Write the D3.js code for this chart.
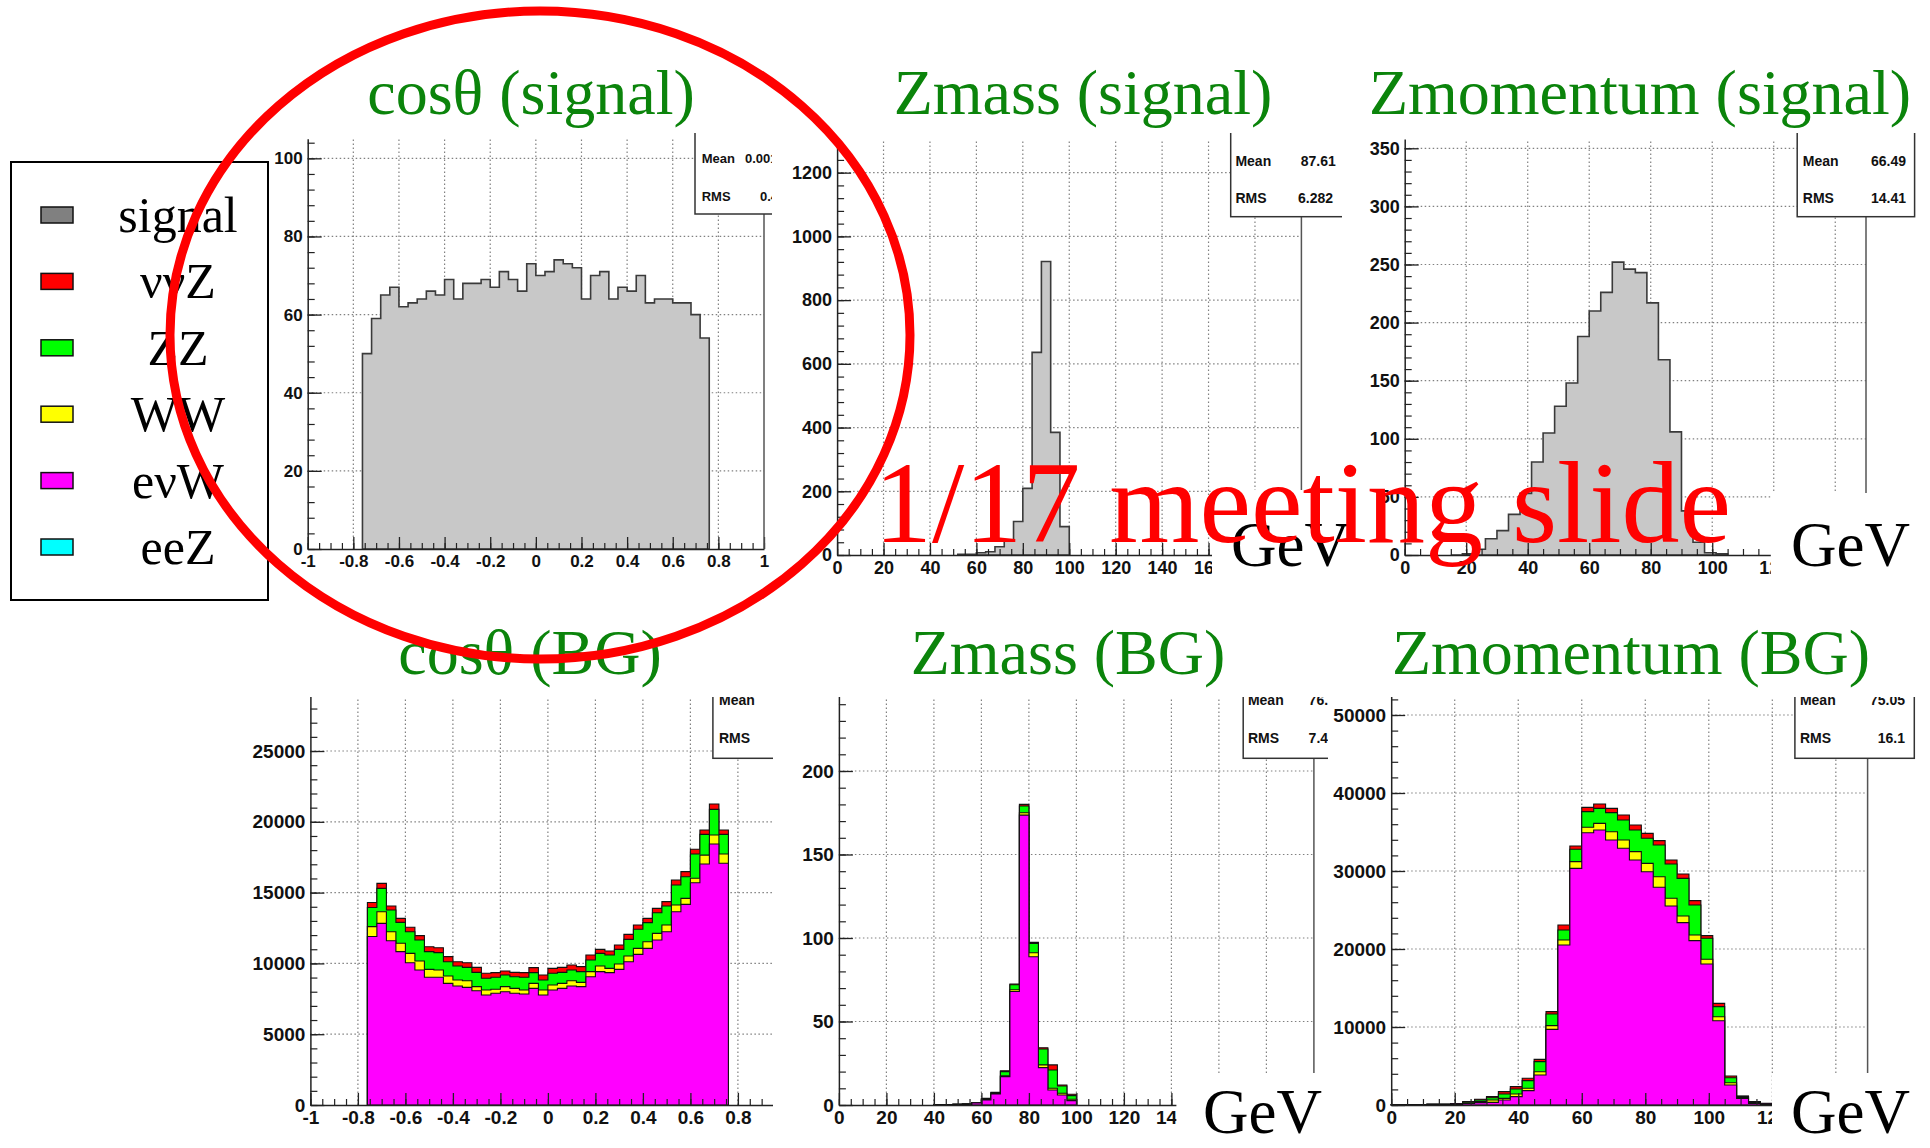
<!DOCTYPE html>
<html>
<head>
<meta charset="utf-8">
<script src="https://cdn.jsdelivr.net/npm/d3@7"></script>
<style>
  body { margin: 0; background: #fff; }
</style>
</head>
<body>
<script>
// ---- data ----

// legend
const processNames = ['signal', 'ννZ', 'ZZ', 'WW', 'eνW', 'eeZ'];
const processColors = ['#808080', '#ff0000', '#00ff00', '#ffff00', '#ff00ff', '#00ffff'];

// panel titles
const titlesTop = ['cosθ (signal)', 'Zmass (signal)', 'Zmomentum (signal)'];
const titlesBottom = ['cosθ (BG)', 'Zmass (BG)', 'Zmomentum (BG)'];

// cos(theta): 38 bins of 0.04 from -0.76
const cosLo = -0.76, cosW = 0.04;
const cosSignal = [50,59,65,67,62,63,64,66,65,69,64,68,68,69,67,71,69,66,73,70,
                   71,74,73,72,64,70,71,64,67,66,70,63,64,64,63,63,60,54];
const cosEvW = [11900,12830,11600,10830,10050,9530,9020,9020,8590,8400,8310,8070,7770,7890,8000,
                7890,7840,8240,7770,8120,8240,8400,8360,9060,9420,9350,9580,10120,10640,11060,
                11650,12240,13650,14170,15700,17020,18430,17070];
const cosWW = [700,820,640,590,660,640,560,510,520,430,470,290,350,280,360,350,280,350,350,350,
               350,380,300,360,400,300,380,400,420,470,470,470,470,420,310,630,640,660];
const cosZZ = [1350,1650,1530,1480,1530,1480,1250,1230,1010,990,940,1010,830,850,820,820,900,760,
               710,830,780,750,760,820,890,940,1030,1180,1350,1350,1460,1340,1420,1530,1720,1460,1810,1380];
const cosNnZ = [350,350,280,280,310,310,350,350,360,300,330,350,350,330,280,310,330,350,350,350,
                350,360,350,350,280,290,310,350,300,300,310,310,350,360,330,310,380,310];

// Z mass: 4 GeV bins
const massSigLo = 52, massBgLo = 40, massW = 4;
const massSignal = [2,2,7,10,26,47,105,209,636,921,385,89];
const massEvW = [0.2,0.3,0.4,0.5,1.3,3,6.6,17,68,173.6,88.8,22.4,9,6,2.6];
const massWW  = [0,0,0,0,0.2,0.3,0.3,0.5,1,1.4,2.4,1.6,1,1,0.8];
const massZZ  = [0,0,0,0,0,0.5,0.5,2.5,3,4,5.6,9.5,11,4.4,2.2];
const massNnZ = [0,0,0,0,0,0.2,0.2,0.5,0.5,1,0.6,0.8,3,0.6,0.8];

// Z momentum: 3.75 GeV bins
const momSigLo = 15, momBgLo = 0, momW = 3.75;
const momSignal = [0,1,5,14,21,35,53,80,105,128,148,188,210,226,252,246,243,217,168,106,38,11,2,1];
const momEvW = [50,50,60,80,100,150,200,300,340,640,1070,1840,3850,9700,20510,30340,34910,35260,
                33970,32910,31410,29910,27910,25510,23380,21070,18080,10810,2560,850,210,150];
const momWW  = [0,0,0,0,0,20,80,150,300,210,340,300,420,470,640,860,690,850,1070,1060,1070,1070,
                1360,990,850,720,600,510,300,100,100,30];
const momZZ  = [0,0,0,0,0,20,100,200,280,560,640,980,1290,1500,1290,1580,2010,1920,2440,2570,2780,
                3210,4060,4400,4830,3850,2690,1290,640,150,80,20];
const momNnZ = [0,0,0,0,0,10,50,80,150,300,300,300,290,300,640,420,550,560,550,640,640,640,560,
                510,560,560,340,420,220,50,40,10];

// stats boxes
const statsValues = [['0.001', '0.43'], ['87.61', '6.282'], ['66.49', '14.41'],
                     ['', ''], ['76.61', '7.418'], ['75.05', '16.1']];

// ---- drawing ----
const sans = "'Liberation Sans', Arial, Helvetica, sans-serif";
const serif = "'Liberation Serif', 'Times New Roman', Times, serif";

const svg = d3.select('body').append('svg')
  .attr('width', 1930)
  .attr('height', 1148);

// stacking order from the bottom: evW, WW, ZZ, nnZ
const stackColors = ['#ff00ff', '#ffff00', '#00ff00', '#ff0000'];

const panels = [
  { clip: [258, 133, 772, 600], xDom: [-1, 1], xPx: [307.7, 764], yDom: [0, 105], yPx: [549, 138.8],
    xStep: 0.2, xMinor: 0.05, yStep: 20, yMinor: 4, fs: 17, sfs: 13,
    hist: { lo: cosLo, w: cosW, vals: cosSignal },
    box: { x: 695, y: 110, r: 900, b: 214, tx: 701.7, meanY: 163, rmsY: 201, vx: [745, 760], anchor: 'start' } },
  { clip: [784, 133, 1342, 600], xDom: [0, 200], xPx: [837.1, 1301.4], yDom: [0, 1300], yPx: [555, 140.8],
    xStep: 20, xMinor: 5, yStep: 200, yMinor: 40, fs: 18, sfs: 14,
    hist: { lo: massSigLo, w: massW, vals: massSignal },
    box: { x: 1230.7, y: 110, r: 1400, b: 216.7, tx: 1235.4, meanY: 166, rmsY: 203, vx: [1300.7, 1298], anchor: 'start' },
    gev: { bx: 1212, by: 490, tx: 1231, ty: 566 } },
  { clip: [1362, 133, 1918, 600], xDom: [0, 150], xPx: [1404.7, 1866], yDom: [0, 358], yPx: [555, 139],
    xStep: 20, xMinor: 5, yStep: 50, yMinor: 10, fs: 18, sfs: 14,
    hist: { lo: momSigLo, w: momW, vals: momSignal },
    box: { x: 1797.2, y: 110, r: 1914.6, b: 216.7, tx: 1802.8, meanY: 166, rmsY: 203, vx: [1906, 1906], anchor: 'end' },
    gev: { bx: 1770.8, by: 493, tx: 1791, ty: 566 } },
  { clip: [245, 697, 773, 1148], xDom: [-1, 1], xPx: [310.4, 785.4], yDom: [0, 29500], yPx: [1105, 687.3],
    xStep: 0.2, xMinor: 0.05, yStep: 5000, yMinor: 1000, fs: 19, sfs: 14,
    stack: { lo: cosLo, w: cosW, layers: [cosEvW, cosWW, cosZZ, cosNnZ] },
    box: { x: 712.9, y: 680, r: 900, b: 758.3, tx: 719, meanY: 705, rmsY: 743, vx: [790, 790], anchor: 'start' } },
  { clip: [800, 697, 1328, 1148], xDom: [0, 200], xPx: [838.9, 1313.9], yDom: [0, 250], yPx: [1105, 687.5],
    xStep: 20, xMinor: 5, yStep: 50, yMinor: 10, fs: 19, sfs: 14,
    stack: { lo: massBgLo, w: massW, layers: [massEvW, massWW, massZZ, massNnZ] },
    box: { x: 1243.2, y: 680, r: 1400, b: 758.3, tx: 1247.9, meanY: 705, rmsY: 743, vx: [1308.6, 1308.6], anchor: 'start' },
    gev: { bx: 1176.4, by: 1073, tx: 1203, ty: 1133 } },
  { clip: [1330, 697, 1918, 1148], xDom: [0, 150], xPx: [1391.2, 1867.6], yDom: [0, 53000], yPx: [1105, 691.6],
    xStep: 20, xMinor: 5, yStep: 10000, yMinor: 2000, fs: 19, sfs: 14,
    stack: { lo: momBgLo, w: momW, layers: [momEvW, momWW, momZZ, momNnZ] },
    box: { x: 1794.9, y: 680, r: 1914.3, b: 758.3, tx: 1799.9, meanY: 705, rmsY: 743, vx: [1905, 1905], anchor: 'end' },
    gev: { bx: 1772, by: 1073, tx: 1791, ty: 1133 } }
];

function tickRange(dom, step) {
  return d3.range(dom[0], dom[1] + 1e-9, step).map(v => +v.toFixed(4));
}

// step points for a histogram: value holds until the next edge
function stepPoints(lo, w, vals) {
  const pts = vals.map((v, i) => ({ x: lo + i * w, v: v }));
  pts.push({ x: lo + vals.length * w, v: vals[vals.length - 1] });
  return pts;
}

panels.forEach((p, i) => {
  const x = d3.scaleLinear().domain(p.xDom).range(p.xPx);
  const y = d3.scaleLinear().domain(p.yDom).range(p.yPx);

  svg.append('clipPath').attr('id', 'clip' + i)
    .append('rect')
      .attr('x', p.clip[0]).attr('y', p.clip[1])
      .attr('width', p.clip[2] - p.clip[0]).attr('height', p.clip[3] - p.clip[1]);

  const g = svg.append('g').attr('clip-path', `url(#clip${i})`);

  const xMaj = tickRange(p.xDom, p.xStep);
  const yMaj = tickRange(p.yDom, p.yStep);

  // dotted grid
  g.append('g').selectAll('line')
    .data(xMaj.filter(v => v > p.xDom[0] && v < p.xDom[1]))
    .join('line')
      .attr('x1', d => x(d)).attr('x2', d => x(d))
      .attr('y1', y(0)).attr('y2', p.yPx[1])
      .attr('stroke', '#808080').attr('stroke-width', 1.2).attr('stroke-dasharray', '1.5,2.5');
  g.append('g').selectAll('line')
    .data(yMaj.filter(v => v > 0))
    .join('line')
      .attr('x1', p.xPx[0]).attr('x2', p.xPx[1])
      .attr('y1', d => y(d)).attr('y2', d => y(d))
      .attr('stroke', '#808080').attr('stroke-width', 1.2).attr('stroke-dasharray', '1.5,2.5');

  const area = d3.area()
    .x(d => x(d.x))
    .y0(y(0))
    .y1(d => y(d.v))
    .curve(d3.curveStepAfter);

  if (p.hist) {
    g.append('path')
      .attr('d', area(stepPoints(p.hist.lo, p.hist.w, p.hist.vals)))
      .attr('fill', '#c8c8c8')
      .attr('stroke', '#3a3a3a')
      .attr('stroke-width', 1.6);
  }

  if (p.stack) {
    const keys = ['evW', 'WW', 'ZZ', 'nnZ'];
    const rows = p.stack.layers[0].map((_, b) => {
      const r = {};
      keys.forEach((k, j) => { r[k] = p.stack.layers[j][b]; });
      return r;
    });
    const series = d3.stack().keys(keys)(rows);
    // draw cumulative histograms from the top one down, as ROOT's THStack does
    for (let j = series.length - 1; j >= 0; j--) {
      const tops = series[j].map(d => d[1]);
      g.append('path')
        .attr('d', area(stepPoints(p.stack.lo, p.stack.w, tops)))
        .attr('fill', stackColors[j])
        .attr('stroke', '#111')
        .attr('stroke-width', 1.1);
    }
  }

  // axes, ticks pointing into the frame
  const yAxis = g.append('g')
    .attr('transform', `translate(${p.xPx[0]},0)`)
    .call(d3.axisLeft(y).tickValues(yMaj).tickFormat(d => String(d))
      .tickSizeInner(-14).tickSizeOuter(0).tickPadding(5))
    .attr('font-family', sans).attr('font-weight', 'bold').attr('font-size', p.fs);
  yAxis.select('.domain').attr('stroke', '#222').attr('stroke-width', 1.5);
  yAxis.selectAll('.tick line').attr('stroke', '#222').attr('stroke-width', 1.3);
  yAxis.selectAll('text').attr('fill', '#111');

  g.append('g')
    .attr('transform', `translate(${p.xPx[0]},0)`)
    .call(d3.axisLeft(y).tickValues(tickRange(p.yDom, p.yMinor)).tickSize(-7).tickFormat(''))
    .call(s => s.select('.domain').remove())
    .call(s => s.selectAll('line').attr('stroke', '#222').attr('stroke-width', 1.2));

  const xAxis = g.append('g')
    .attr('transform', `translate(0,${y(0)})`)
    .call(d3.axisBottom(x).tickValues(xMaj).tickFormat(d => String(d))
      .tickSizeInner(-12).tickSizeOuter(0).tickPadding(6))
    .attr('font-family', sans).attr('font-weight', 'bold').attr('font-size', p.fs);
  xAxis.select('.domain').attr('stroke', '#222').attr('stroke-width', 1.5);
  xAxis.selectAll('.tick line').attr('stroke', '#222').attr('stroke-width', 1.3);
  xAxis.selectAll('text').attr('fill', '#111');

  g.append('g')
    .attr('transform', `translate(0,${y(0)})`)
    .call(d3.axisBottom(x).tickValues(tickRange(p.xDom, p.xMinor)).tickSize(-6).tickFormat(''))
    .call(s => s.select('.domain').remove())
    .call(s => s.selectAll('line').attr('stroke', '#222').attr('stroke-width', 1.2));

  // right frame line
  g.append('line')
    .attr('x1', p.xPx[1]).attr('x2', p.xPx[1])
    .attr('y1', y(0)).attr('y2', p.yPx[1])
    .attr('stroke', '#555').attr('stroke-width', 1.5);

  // stats box
  const bx = p.box;
  g.append('rect')
    .attr('x', bx.x).attr('y', bx.y)
    .attr('width', bx.r - bx.x).attr('height', bx.b - bx.y)
    .attr('fill', '#fff').attr('stroke', '#333').attr('stroke-width', 1.5);
  const st = g.append('g')
    .attr('font-family', sans).attr('font-weight', 'bold').attr('font-size', p.sfs).attr('fill', '#111');
  st.append('text').attr('x', bx.tx).attr('y', bx.meanY).text('Mean');
  st.append('text').attr('x', bx.tx).attr('y', bx.rmsY).text('RMS');
  st.append('text').attr('x', bx.vx[0]).attr('y', bx.meanY).attr('text-anchor', bx.anchor).text(statsValues[i][0]);
  st.append('text').attr('x', bx.vx[1]).attr('y', bx.rmsY).attr('text-anchor', bx.anchor).text(statsValues[i][1]);

  // white patch carrying the GeV unit
  if (p.gev) {
    g.append('rect')
      .attr('x', p.gev.bx).attr('y', p.gev.by)
      .attr('width', 400).attr('height', 300)
      .attr('fill', '#fff');
    svg.append('text')
      .attr('x', p.gev.tx).attr('y', p.gev.ty)
      .attr('font-family', serif).attr('font-size', 63)
      .attr('fill', '#000')
      .text('GeV');
  }
});

// panel titles
const titleX = [531, 1083, 1640];
const titleXBottom = [530, 1068, 1631];
svg.append('g')
  .attr('font-family', serif).attr('font-size', 64).attr('fill', '#0b840b').attr('text-anchor', 'middle')
  .call(g => {
    g.selectAll('text.top').data(titlesTop).join('text').attr('class', 'top')
      .attr('x', (d, k) => titleX[k]).attr('y', 114).text(d => d);
    g.selectAll('text.bot').data(titlesBottom).join('text').attr('class', 'bot')
      .attr('x', (d, k) => titleXBottom[k]).attr('y', 674).text(d => d);
  });

// legend
const legend = svg.append('g');
legend.append('rect')
  .attr('x', 11).attr('y', 162).attr('width', 257).attr('height', 438)
  .attr('fill', '#fff').attr('stroke', '#000').attr('stroke-width', 2);
const legendY = d3.scalePoint().domain(processNames).range([215, 547]);
const legendRows = legend.selectAll('g.row').data(processNames).join('g').attr('class', 'row');
legendRows.append('rect')
  .attr('x', 41).attr('y', d => legendY(d) - 8)
  .attr('width', 32).attr('height', 16)
  .attr('fill', (d, k) => processColors[k])
  .attr('stroke', '#111').attr('stroke-width', 1.5);
legendRows.append('text')
  .attr('x', 178).attr('y', d => legendY(d) + 17)
  .attr('text-anchor', 'middle')
  .attr('font-family', serif).attr('font-size', 50).attr('fill', '#000')
  .text(d => d);

// red annotations on top
svg.append('ellipse')
  .attr('cx', 540).attr('cy', 335).attr('rx', 370).attr('ry', 324)
  .attr('fill', 'none').attr('stroke', '#ff0000').attr('stroke-width', 9);

svg.append('text')
  .attr('x', 874).attr('y', 542)
  .attr('font-family', serif).attr('font-size', 116).attr('fill', '#ff0000')
  .text('1/17 meeting slide');
</script>
</body>
</html>
